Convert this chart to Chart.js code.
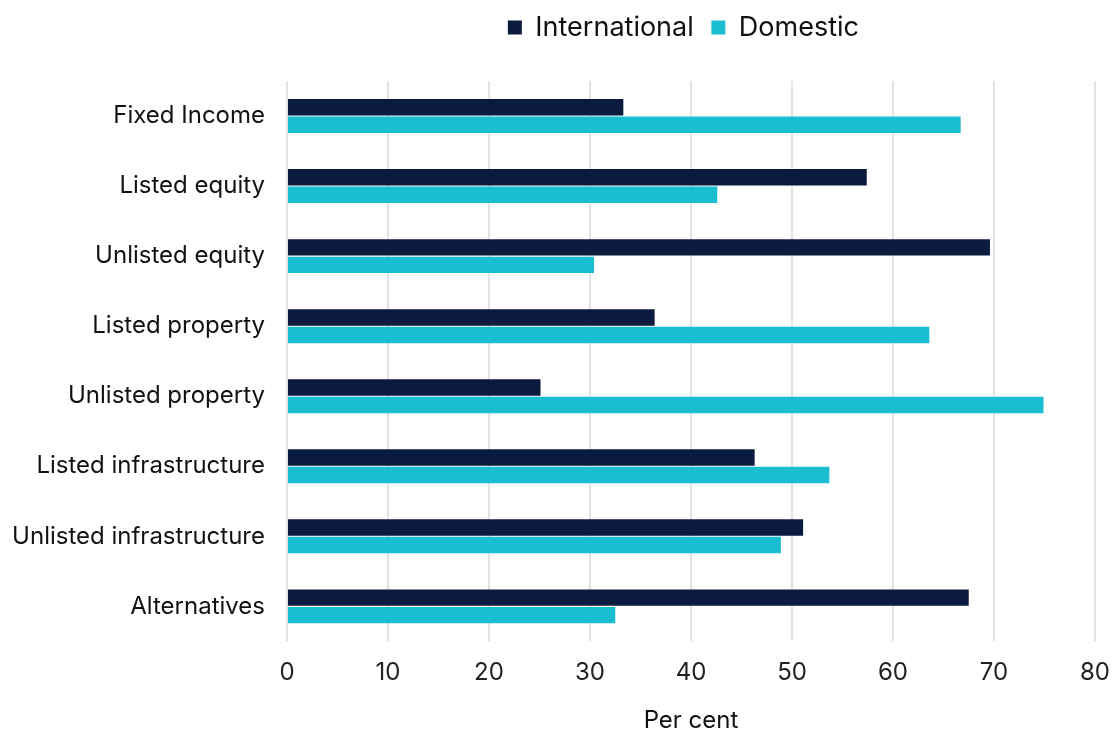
<!DOCTYPE html>
<html>
<head>
<meta charset="utf-8">
<script src="https://cdn.jsdelivr.net/npm/chart.js@4/dist/chart.umd.min.js"></script>
<style>
html,body{margin:0;padding:0;background:#fff;}
#wrap{width:1115px;height:735px;}
</style>
</head>
<body>
<div id="wrap"><canvas id="c" width="1115" height="735"></canvas></div>
<script>
const categories = ["Fixed Income","Listed equity","Unlisted equity","Listed property","Unlisted property","Listed infrastructure","Unlisted infrastructure","Alternatives"];
const international = [33.3, 57.4, 69.6, 36.4, 25.1, 46.3, 51.1, 67.5];
const domestic = [66.7, 42.6, 30.4, 63.6, 74.9, 53.7, 48.9, 32.5];
const seriesNames = ["International","Domestic"];
const xTicks = [0,10,20,30,40,50,60,70,80];

const FONT = "Inter, 'Noto Sans', sans-serif";
Chart.defaults.font.family = FONT;
Chart.defaults.color = "#111";

// extra space below the legend
const legendGap = {
  id: 'legendGap',
  afterInit(chart) {
    const lg = chart.legend;
    if (!lg) return;
    const orig = lg.fit;
    lg.fit = function() { orig.call(this); this.height += 30; };
  }
};

new Chart(document.getElementById('c'), {
  type: 'bar',
  data: {
    labels: categories,
    datasets: [
      {label: seriesNames[0], data: international, backgroundColor: '#0b1a3f', borderWidth: 0, categoryPercentage: 0.5, barPercentage: 0.94},
      {label: seriesNames[1], data: domestic, backgroundColor: '#1bbed1', borderWidth: 0, categoryPercentage: 0.5, barPercentage: 0.94}
    ]
  },
  plugins: [legendGap],
  options: {
    indexAxis: 'y',
    responsive: false,
    animation: false,
    devicePixelRatio: 1,
    layout: {padding: {top: 4, right: 20, left: 0, bottom: 0}},
    plugins: {
      legend: {
        position: 'top',
        fullSize: false,
        labels: {
          boxWidth: 14, boxHeight: 14, font: {size: 27}, color: '#111', padding: 10,
          generateLabels: (chart) => {
            const items = Chart.defaults.plugins.legend.labels.generateLabels(chart);
            items.forEach((it, i) => { it.text = it.text + (i === 0 ? ' ' : '  '); it.lineWidth = 0; });
            return items;
          }
        }
      },
      tooltip: {enabled: false}
    },
    scales: {
      x: {
        min: 0, max: 80,
        afterBuildTicks: (axis) => { axis.ticks = xTicks.map(v => ({value: v})); },
        afterFit: (axis) => { axis.paddingRight = 13; },
        grid: {color: '#e3e3e3', lineWidth: 2, drawTicks: false},
        border: {display: false},
        ticks: {font: {size: 24}, color: '#222', padding: 17},
        title: {display: true, text: 'Per cent', font: {size: 24}, color: '#111', padding: {top: 2, bottom: 0}}
      },
      y: {
        afterFit: (axis) => { axis.width = 287; },
        grid: {display: false, drawTicks: false},
        border: {display: false},
        ticks: {font: {size: 24}, color: '#111', padding: 22}
      }
    }
  }
});
</script>
</body>
</html>
